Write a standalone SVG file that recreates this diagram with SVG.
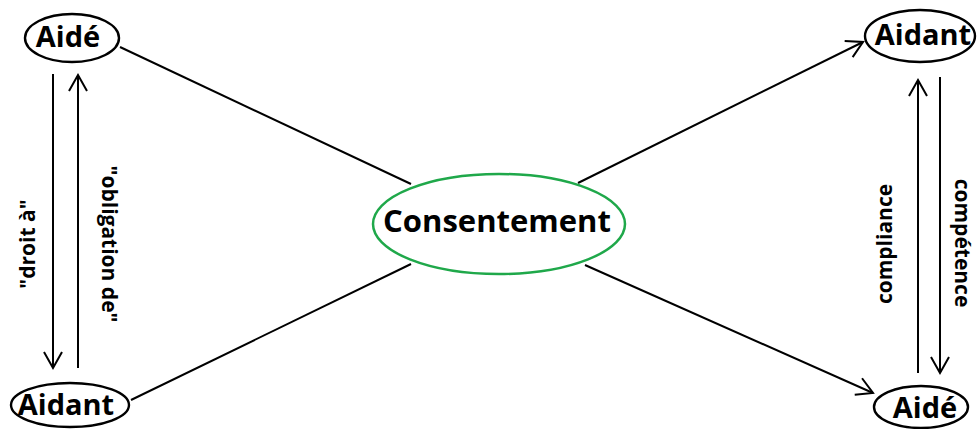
<svg xmlns="http://www.w3.org/2000/svg" width="977" height="429" viewBox="0 0 977 429">
<style>
.node{fill:#fff;stroke:#000;stroke-width:2.4}
.center{fill:#fff;stroke:#1fa84a;stroke-width:2.5}
.t{font-family:"Open Sans","Liberation Sans",sans-serif;font-weight:bold;fill:#000;text-anchor:middle}
.big{font-size:29px}
.lbl{font-size:21px}
.c{stroke:#000;stroke-width:2;fill:none}
</style>
<defs>
<marker id="arr" markerUnits="userSpaceOnUse" markerWidth="24" markerHeight="24" viewBox="-18 -12 20 24" refX="0" refY="0" orient="auto">
<path d="M-16,-9 L0,0 L-16,9" fill="none" stroke="#000" stroke-width="2"/>
</marker>
</defs>
<g id="connectors">
<line class="c" x1="120" y1="47" x2="411" y2="184"/>
<line class="c" x1="131" y1="400" x2="411" y2="264"/>
<line class="c" x1="578" y1="183" x2="863" y2="42" marker-end="url(#arr)"/>
<line class="c" x1="585" y1="265" x2="873" y2="393" marker-end="url(#arr)"/>
<line class="c" x1="53" y1="74" x2="53" y2="368" marker-end="url(#arr)"/>
<line class="c" x1="78" y1="368" x2="78" y2="75" marker-end="url(#arr)"/>
<line class="c" x1="918" y1="373" x2="918" y2="80" marker-end="url(#arr)"/>
<line class="c" x1="940" y1="77" x2="940" y2="373" marker-end="url(#arr)"/>
<text class="t lbl" transform="translate(35,244) rotate(-90)">"droit à"</text>
<text class="t lbl" transform="translate(102,244) rotate(90)">"obligation de"</text>
<text class="t lbl" transform="translate(892,244) rotate(-90)">compliance</text>
<text class="t lbl" transform="translate(955,243) rotate(90)">compétence</text>
</g>
<g id="consentement">
<ellipse class="center" cx="499" cy="224" rx="126" ry="50"/>
<text class="t big" x="497" y="232" style="font-size:31px">Consentement</text>
</g>
<g id="aide-tl">
<ellipse class="node" cx="72" cy="38" rx="47" ry="24"/>
<text class="t big" x="68" y="47">Aidé</text>
</g>
<g id="aidant-bl">
<ellipse class="node" cx="70" cy="405" rx="59" ry="22"/>
<text class="t big" x="66" y="415">Aidant</text>
</g>
<g id="aidant-tr">
<ellipse class="node" cx="920" cy="36" rx="55" ry="26"/>
<text class="t big" x="923" y="45">Aidant</text>
</g>
<g id="aide-br">
<ellipse class="node" cx="921" cy="407" rx="47" ry="21"/>
<text class="t big" x="925" y="418">Aidé</text>
</g>
</svg>
